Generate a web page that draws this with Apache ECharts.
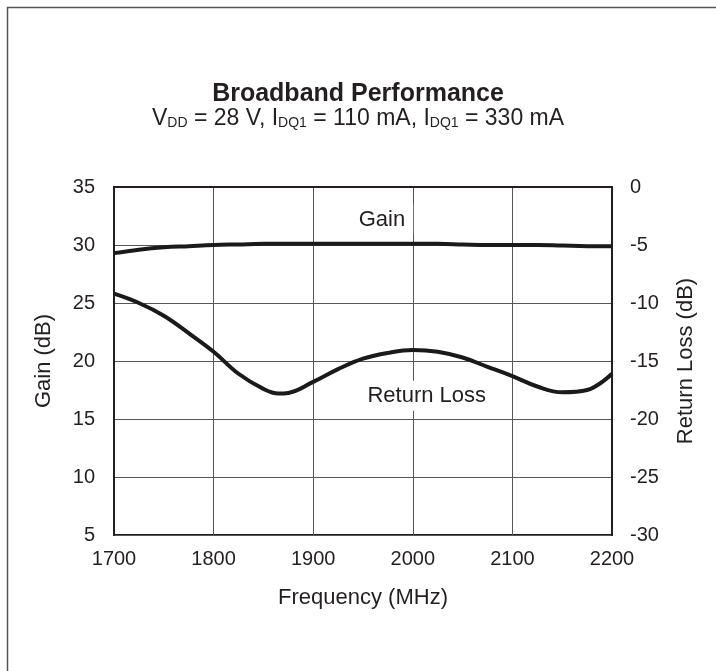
<!DOCTYPE html>
<html>
<head>
<meta charset="utf-8">
<script src="https://cdn.jsdelivr.net/npm/echarts@6/dist/echarts.min.js"></script>
<style>
  html, body { margin: 0; padding: 0; background: #fff; }
  #main { width: 716px; height: 671px; }
</style>
</head>
<body>
<div id="main"></div>
<script>
// values
var freq = [1700, 1725, 1750, 1775, 1800, 1825, 1850, 1865, 1875, 1900, 1925, 1950, 1975, 2000, 2025, 2050, 2075, 2100, 2125, 2150, 2175, 2200];
var gain = [29.3, 29.6, 29.8, 29.9, 30.0, 30.05, 30.1, 30.1, 30.1, 30.1, 30.1, 30.1, 30.1, 30.1, 30.1, 30.05, 30.0, 30.0, 30.0, 29.95, 29.9, 29.9];
var returnLoss = [-9.2, -10.0, -11.1, -12.6, -14.2, -16.1, -17.4, -17.8, -17.75, -16.8, -15.7, -14.8, -14.3, -14.05, -14.2, -14.7, -15.5, -16.3, -17.2, -17.7, -17.5, -16.1];

var gainTicks = { min: 5, max: 35, step: 5 };
var rlTicks = { min: -30, max: 0, step: 5 };
var freqTicks = { min: 1700, max: 2200, step: 100 };

function pairs(xs, ys) {
    var out = [];
    for (var i = 0; i < xs.length; i++) {
        out.push([xs[i], ys[i]]);
    }
    return out;
}

var ink = '#231f20';
var font = '"Liberation Sans", Arial, sans-serif';

var chart = echarts.init(document.getElementById('main'), null, { width: 716, height: 671 });

var nameStyle = { color: ink, fontSize: 22, fontFamily: font };

function noteLabel(text) {
    return {
        show: true, position: 'inside', formatter: text,
        color: ink, fontSize: 22, fontFamily: font,
        backgroundColor: '#fff', padding: [4, 8]
    };
}

var option = {
    animation: false,
    backgroundColor: '#fff',
    title: [
        {
            text: 'Broadband Performance',
            left: 'center',
            top: 77,
            textStyle: { color: ink, fontSize: 25, fontWeight: 'bold', fontFamily: font }
        },
        {
            text: '{n|V}{s|DD}{n| = 28 V, I}{s|DQ1}{n| = 110 mA, I}{s|DQ1}{n| = 330 mA}',
            left: 'center',
            top: 97,
            textStyle: {
                rich: {
                    n: { color: ink, fontSize: 23, fontWeight: 'normal', fontFamily: font, lineHeight: 28, verticalAlign: 'bottom' },
                    s: { color: ink, fontSize: 14, fontWeight: 'normal', fontFamily: font, lineHeight: 28, verticalAlign: 'bottom', padding: [8, 0, 0, 0] }
                }
            }
        }
    ],
    grid: {
        left: 114, right: 104, top: 187, bottom: 136,
        show: true, borderColor: ink, borderWidth: 2
    },
    xAxis: {
        type: 'value',
        min: freqTicks.min, max: freqTicks.max, interval: freqTicks.step,
        name: 'Frequency (MHz)',
        nameLocation: 'middle',
        nameGap: 52,
        nameTextStyle: nameStyle,
        axisLine: { show: true, lineStyle: { color: ink, width: 2 } },
        axisTick: { show: false },
        axisLabel: {
            color: ink, fontSize: 20, fontFamily: font, margin: 14,
            formatter: function (v) { return String(v); }
        },
        splitLine: { show: true, lineStyle: { color: '#555', width: 1 } }
    },
    yAxis: [
        {
            type: 'value',
            min: gainTicks.min, max: gainTicks.max, interval: gainTicks.step,
            name: 'Gain (dB)',
            nameLocation: 'middle',
            nameGap: 59,
            nameTextStyle: nameStyle,
            axisLine: { show: true, lineStyle: { color: ink, width: 2 } },
            axisTick: { show: false },
            axisLabel: { color: ink, fontSize: 20, fontFamily: font, margin: 19 },
            splitLine: { show: true, lineStyle: { color: '#555', width: 1 } }
        },
        {
            type: 'value',
            position: 'right',
            min: rlTicks.min, max: rlTicks.max, interval: rlTicks.step,
            name: 'Return Loss (dB)',
            nameLocation: 'middle',
            nameGap: 63,
            nameRotate: 90,
            nameTextStyle: nameStyle,
            axisLine: { show: true, lineStyle: { color: ink, width: 2 } },
            axisTick: { show: false },
            axisLabel: { color: ink, fontSize: 20, fontFamily: font, margin: 18 },
            splitLine: { show: false }
        }
    ],
    series: [
        {
            name: 'Gain',
            type: 'line',
            yAxisIndex: 0,
            smooth: 0.4,
            symbol: 'none',
            lineStyle: { color: '#1a1a1a', width: 4 },
            data: pairs(freq, gain),
            markPoint: {
                symbol: 'rect', symbolSize: 1,
                itemStyle: { color: 'rgba(0,0,0,0)' },
                data: [{ coord: [1969, 32.2], value: 'Gain' }],
                label: noteLabel('Gain')
            }
        },
        {
            name: 'Return Loss',
            type: 'line',
            yAxisIndex: 1,
            smooth: 0.4,
            symbol: 'none',
            lineStyle: { color: '#1a1a1a', width: 4 },
            data: pairs(freq, returnLoss),
            markPoint: {
                symbol: 'rect', symbolSize: 1,
                itemStyle: { color: 'rgba(0,0,0,0)' },
                data: [{ coord: [2014, -18.0], value: 'Return Loss' }],
                label: noteLabel('Return Loss')
            }
        }
    ],
    graphic: [
        {
            type: 'rect',
            shape: { x: 7.5, y: 7.5, width: 760, height: 720 },
            style: { fill: 'none', stroke: '#555', lineWidth: 1.5 },
            silent: true
        }
    ]
};

chart.setOption(option);
</script>
</body>
</html>
